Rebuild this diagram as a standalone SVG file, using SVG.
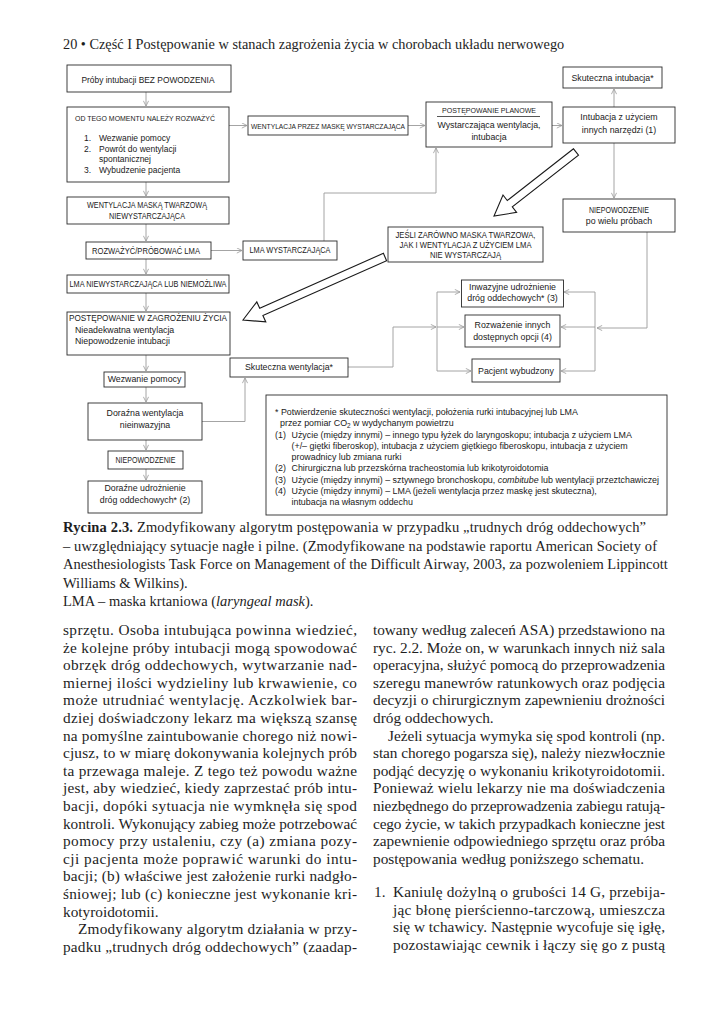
<svg xmlns="http://www.w3.org/2000/svg" width="723" height="1024" viewBox="0 0 723 1024">
<defs>
<style>
.bx{fill:#fff;stroke:#2a2a2a;stroke-width:0.9}
.t{font-family:"Liberation Sans",Arial,sans-serif;fill:#1a1a1a}
.m{font-size:8.8px}
.k{font-size:8.2px}
.c{text-anchor:middle}
.cn{fill:none;stroke:#9a9a9a;stroke-width:0.9}
.big{fill:#fff;stroke:#1a1a1a;stroke-width:1.1;stroke-linejoin:miter}
.s{font-family:"Liberation Serif","Times New Roman",serif;fill:#1e1e1e}
.b{font-size:15.3px}
.fn{font-size:8.9px}
</style>
<marker id="ah" viewBox="0 0 6 6" refX="5.6" refY="3" markerWidth="6" markerHeight="6" markerUnits="userSpaceOnUse" orient="auto">
<path d="M0.4,0.4 L5.6,3 L0.4,5.6" fill="none" stroke="#9a9a9a" stroke-width="0.8"/>
</marker>
</defs>
<rect width="723" height="1024" fill="#fff"/>

<text class="s" x="63" y="48.5" font-size="14.3">20 • Część I  Postępowanie w stanach zagrożenia życia w chorobach układu nerwowego</text>

<g id="connectors">
<path class="cn" marker-end="url(#ah)" d="M146,92 V106"/>
<path class="cn" marker-end="url(#ah)" d="M229,125.5 H247"/>
<path class="cn" marker-end="url(#ah)" d="M408,125.5 H425"/>
<path class="cn" marker-end="url(#ah)" d="M552,125.5 H562"/>
<path class="cn" marker-end="url(#ah)" d="M614,107 V89"/>
<path class="cn" marker-end="url(#ah)" d="M614,143 V198"/>
<path class="cn" marker-end="url(#ah)" d="M146,182 V196"/>
<path class="cn" marker-end="url(#ah)" d="M146,224 V241"/>
<path class="cn" marker-end="url(#ah)" d="M211,250.5 H242"/>
<path class="cn" marker-end="url(#ah)" d="M146,259 V274"/>
<path class="cn" marker-end="url(#ah)" d="M146,293 V311"/>
<path class="cn" marker-end="url(#ah)" d="M146,355 V371"/>
<path class="cn" marker-end="url(#ah)" d="M146,387 V402"/>
<path class="cn" marker-end="url(#ah)" d="M146,440 V450"/>
<path class="cn" marker-end="url(#ah)" d="M146,469 V480"/>
<path class="cn" marker-end="url(#ah)" d="M202,421.5 H245 V378"/>
<path class="cn" marker-end="url(#ah)" d="M324,241 V193 H436 V148"/>
<path class="cn" marker-end="url(#ah)" d="M348,367 H393 V327 H436"/>
<path class="cn" d="M437,292 V371"/>
<path class="cn" marker-end="url(#ah)" d="M437,292 H460"/>
<path class="cn" marker-end="url(#ah)" d="M437,327 H464"/>
<path class="cn" marker-end="url(#ah)" d="M437,371 H471"/>
<path class="cn" d="M595,292 V371"/>
<path class="cn" marker-end="url(#ah)" d="M595,292 H564"/>
<path class="cn" marker-end="url(#ah)" d="M595,327 H561"/>
<path class="cn" marker-end="url(#ah)" d="M595,371 H561"/>
<path class="cn" marker-end="url(#ah)" d="M647,232 V328 H597"/>
<polygon class="big" points="573.5,148.8 507.3,200.5 503,195 494,216 516.6,212.4 512.3,206.9 578.5,155.2"/>
<polygon class="big" points="383.4,253.3 259.7,308.2 256.8,301.9 243,320 265.8,321.9 262.9,315.6 386.6,260.7"/>
</g>

<g id="n1"><rect class="bx" x="67" y="65" width="164" height="27"/>
<text class="t c" x="148" y="82.5" font-size="9.2" textLength="133" lengthAdjust="spacingAndGlyphs">Próby intubacji BEZ POWODZENIA</text></g>

<g id="n2"><rect class="bx" x="67" y="107" width="162" height="75"/>
<text class="t c" x="145" y="121" font-size="8" textLength="140" lengthAdjust="spacingAndGlyphs">OD TEGO MOMENTU NALEŻY ROZWAŻYĆ</text>
<text class="t" font-size="8.5"><tspan x="84" y="141.3">1.</tspan><tspan x="99" y="141.3">Wezwanie pomocy</tspan><tspan x="84" y="152.3">2.</tspan><tspan x="99" y="152.3">Powrót do wentylacji</tspan><tspan x="99" y="162.3">spontanicznej</tspan><tspan x="84" y="173">3.</tspan><tspan x="99" y="173">Wybudzenie pacjenta</tspan></text></g>

<g id="n3"><rect class="bx" x="248" y="116" width="160" height="19"/>
<text class="t c" x="328" y="128.6" font-size="7.8" textLength="154" lengthAdjust="spacingAndGlyphs">WENTYLACJA PRZEZ MASKĘ WYSTARCZAJĄCA</text></g>

<g id="n4"><rect class="bx" x="426" y="102" width="126" height="45"/>
<text class="t c" x="489" y="112.8" font-size="8" textLength="94" lengthAdjust="spacingAndGlyphs">POSTĘPOWANIE PLANOWE</text>
<line x1="437" y1="116.5" x2="540" y2="116.5" stroke="#2a2a2a" stroke-width="0.8"/>
<text class="t m c" x="489" y="128">Wystarczająca wentylacja,</text>
<text class="t m c" x="489" y="139.7">intubacja</text></g>

<g id="n5"><rect class="bx" x="563" y="107" width="112" height="36"/>
<text class="t m c" x="619" y="119.7">Intubacja z użyciem</text>
<text class="t m c" x="619" y="133">innych narzędzi (1)</text></g>

<g id="n6"><rect class="bx" x="563" y="67" width="99" height="21"/>
<text class="t m c" x="612.5" y="80.5">Skuteczna intubacja*</text></g>

<g id="n7"><rect class="bx" x="563" y="199" width="112" height="33"/>
<text class="t k c" x="619" y="212.8" textLength="60" lengthAdjust="spacingAndGlyphs">NIEPOWODZENIE</text>
<text class="t m c" x="619" y="223.7">po wielu próbach</text></g>

<g id="n8"><rect class="bx" x="67" y="197" width="162" height="27"/>
<text class="t k c" x="147" y="207.8" textLength="120" lengthAdjust="spacingAndGlyphs">WENTYLACJA MASKĄ TWARZOWĄ</text>
<text class="t k c" x="147" y="219.4" textLength="76" lengthAdjust="spacingAndGlyphs">NIEWYSTARCZAJĄCA</text></g>

<g id="n9"><rect class="bx" x="86" y="242" width="125" height="17"/>
<text class="t k c" x="146" y="253.6" textLength="108" lengthAdjust="spacingAndGlyphs">ROZWAŻYĆ/PRÓBOWAĆ LMA</text></g>

<g id="n10"><rect class="bx" x="243" y="241" width="94" height="19"/>
<text class="t k c" x="290" y="253" textLength="81" lengthAdjust="spacingAndGlyphs">LMA WYSTARCZAJĄCA</text></g>

<g id="n11"><rect class="bx" x="388" y="227" width="155" height="35"/>
<text class="t c" x="465.5" y="237.8" font-size="8.4" textLength="140" lengthAdjust="spacingAndGlyphs">JEŚLI ZARÓWNO MASKA TWARZOWA,</text>
<text class="t c" x="465.5" y="247.9" font-size="8.4" textLength="132" lengthAdjust="spacingAndGlyphs">JAK I WENTYLACJA Z UŻYCIEM LMA</text>
<text class="t c" x="465.5" y="258" font-size="8.4" textLength="71" lengthAdjust="spacingAndGlyphs">NIE WYSTARCZAJĄ</text></g>

<g id="n12"><rect class="bx" x="67" y="275" width="162" height="18"/>
<text class="t k c" x="148" y="287.3" textLength="157" lengthAdjust="spacingAndGlyphs">LMA NIEWYSTARCZAJĄCA LUB NIEMOŻLIWA</text></g>

<g id="n13"><rect class="bx" x="67" y="312" width="163" height="43"/>
<text class="t" x="69" y="321.3" font-size="8.7" textLength="158" lengthAdjust="spacingAndGlyphs">POSTĘPOWANIE W ZAGROŻENIU ŻYCIA</text>
<text class="t m" x="75" y="333">Nieadekwatna wentylacja</text>
<text class="t m" x="75" y="343.8">Niepowodzenie intubacji</text></g>

<g id="n14"><rect class="bx" x="461.5" y="280" width="102" height="27"/>
<text class="t m c" x="512.5" y="290.3">Inwazyjne udrożnienie</text>
<text class="t m c" x="512.5" y="301.3">dróg oddechowych* (3)</text></g>

<g id="n15"><rect class="bx" x="465" y="315" width="95" height="32"/>
<text class="t m c" x="512.5" y="328">Rozważenie innych</text>
<text class="t m c" x="512.5" y="339.7">dostępnych opcji (4)</text></g>

<g id="n16"><rect class="bx" x="472" y="359" width="88" height="23"/>
<text class="t m c" x="516" y="373.7">Pacjent wybudzony</text></g>

<g id="n17"><rect class="bx" x="230" y="358" width="118" height="19"/>
<text class="t m c" x="289" y="370.3">Skuteczna wentylacja*</text></g>

<g id="n18"><rect class="bx" x="104" y="372" width="81" height="15"/>
<text class="t m c" x="144.5" y="382.3">Wezwanie pomocy</text></g>

<g id="n19"><rect class="bx" x="88" y="403" width="114" height="37"/>
<text class="t m c" x="145" y="415.5">Doraźna wentylacja</text>
<text class="t m c" x="145" y="428">nieinwazyjna</text></g>

<g id="n20"><rect class="bx" x="108" y="451" width="75" height="18"/>
<text class="t k c" x="145.5" y="462.8" textLength="60" lengthAdjust="spacingAndGlyphs">NIEPOWODZENIE</text></g>

<g id="n21"><rect class="bx" x="88" y="481" width="114" height="32"/>
<text class="t m c" x="145" y="491.3">Doraźne udrożnienie</text>
<text class="t m c" x="145" y="503">dróg oddechowych* (2)</text></g>

<g id="footnote"><rect class="bx" x="266" y="395" width="401" height="120"/>
<text class="t fn">
<tspan x="275" y="415">* Potwierdzenie skuteczności wentylacji, położenia rurki intubacyjnej lub LMA</tspan>
<tspan x="280" y="426">przez pomiar CO</tspan><tspan font-size="6.4" dy="2">2</tspan><tspan dy="-2"> w wydychanym powietrzu</tspan>
<tspan x="275" y="437.5">(1)</tspan><tspan x="291.5" y="437.5">Użycie (między innymi) – innego typu łyżek do laryngoskopu; intubacja z użyciem LMA</tspan>
<tspan x="291.5" y="448.5">(+/– giętki fiberoskop), intubacja z użyciem giętkiego fiberoskopu, intubacja z użyciem</tspan>
<tspan x="291.5" y="459.5">prowadnicy lub zmiana rurki</tspan>
<tspan x="275" y="471">(2)</tspan><tspan x="291.5" y="471">Chirurgiczna lub przezskórna tracheostomia lub krikotyroidotomia</tspan>
<tspan x="275" y="482.5">(3)</tspan><tspan x="291.5" y="482.5">Użycie (między innymi) – sztywnego bronchoskopu, </tspan><tspan font-style="italic">combitube</tspan><tspan> lub wentylacji przeztchawiczej</tspan>
<tspan x="275" y="494">(4)</tspan><tspan x="291.5" y="494">Użycie (między innymi) – LMA (jeżeli wentylacja przez maskę jest skuteczna),</tspan>
<tspan x="291.5" y="505">intubacja na własnym oddechu</tspan>
</text></g>

<g id="caption" class="s" font-size="14.5">
<text x="63" y="532" textLength="583" lengthAdjust="spacing"><tspan font-weight="bold">Rycina 2.3.</tspan> Zmodyfikowany algorytm postępowania w przypadku „trudnych dróg oddechowych”</text>
<text x="63" y="550.5" textLength="594" lengthAdjust="spacing">– uwzględniający sytuacje nagłe i pilne. (Zmodyfikowane na podstawie raportu American Society of</text>
<text x="63" y="569">Anesthesiologists Task Force on Management of the Difficult Airway, 2003, za pozwoleniem Lippincott</text>
<text x="63" y="587.5">Williams &amp; Wilkins).</text>
<text x="63" y="606">LMA – maska krtaniowa (<tspan font-style="italic">laryngeal mask</tspan>).</text>
</g>

<g id="body-left" class="s b">
<text x="63" y="635" textLength="294" lengthAdjust="spacing">sprzętu. Osoba intubująca powinna wiedzieć,</text>
<text x="63" y="652.6" textLength="294" lengthAdjust="spacing">że kolejne próby intubacji mogą spowodować</text>
<text x="63" y="670.2" textLength="294" lengthAdjust="spacing">obrzęk dróg oddechowych, wytwarzanie nad-</text>
<text x="63" y="687.8" textLength="294" lengthAdjust="spacing">miernej ilości wydzieliny lub krwawienie, co</text>
<text x="63" y="705.4" textLength="294" lengthAdjust="spacing">może utrudniać wentylację. Aczkolwiek bar-</text>
<text x="63" y="723" textLength="294" lengthAdjust="spacing">dziej doświadczony lekarz ma większą szansę</text>
<text x="63" y="740.6" textLength="294" lengthAdjust="spacing">na pomyślne zaintubowanie chorego niż nowi-</text>
<text x="63" y="758.2" textLength="294" lengthAdjust="spacing">cjusz, to w miarę dokonywania kolejnych prób</text>
<text x="63" y="775.8" textLength="294" lengthAdjust="spacing">ta przewaga maleje. Z tego też powodu ważne</text>
<text x="63" y="793.4" textLength="294" lengthAdjust="spacing">jest, aby wiedzieć, kiedy zaprzestać prób intu-</text>
<text x="63" y="811" textLength="294" lengthAdjust="spacing">bacji, dopóki sytuacja nie wymknęła się spod</text>
<text x="63" y="828.6" textLength="294" lengthAdjust="spacing">kontroli. Wykonujący zabieg może potrzebować</text>
<text x="63" y="846.2" textLength="294" lengthAdjust="spacing">pomocy przy ustaleniu, czy (a) zmiana pozy-</text>
<text x="63" y="863.8" textLength="294" lengthAdjust="spacing">cji pacjenta może poprawić warunki do intu-</text>
<text x="63" y="881.4" textLength="294" lengthAdjust="spacing">bacji; (b) właściwe jest założenie rurki nadgło-</text>
<text x="63" y="899" textLength="294" lengthAdjust="spacing">śniowej; lub (c) konieczne jest wykonanie kri-</text>
<text x="63" y="916.6">kotyroidotomii.</text>
<text x="78" y="934.2" textLength="279" lengthAdjust="spacing">Zmodyfikowany algorytm działania w przy-</text>
<text x="63" y="951.8" textLength="294" lengthAdjust="spacing">padku „trudnych dróg oddechowych” (zaadap-</text>
</g>

<g id="body-right" class="s b">
<text x="373" y="635" textLength="292" lengthAdjust="spacing">towany według zaleceń ASA) przedstawiono na</text>
<text x="373" y="652.6" textLength="292" lengthAdjust="spacing">ryc. 2.2. Może on, w warunkach innych niż sala</text>
<text x="373" y="670.2" textLength="292" lengthAdjust="spacing">operacyjna, służyć pomocą do przeprowadzenia</text>
<text x="373" y="687.8" textLength="292" lengthAdjust="spacing">szeregu manewrów ratunkowych oraz podjęcia</text>
<text x="373" y="705.4" textLength="292" lengthAdjust="spacing">decyzji o chirurgicznym zapewnieniu drożności</text>
<text x="373" y="723">dróg oddechowych.</text>
<text x="388" y="740.6" textLength="277" lengthAdjust="spacing">Jeżeli sytuacja wymyka się spod kontroli (np.</text>
<text x="373" y="758.2" textLength="292" lengthAdjust="spacing">stan chorego pogarsza się), należy niezwłocznie</text>
<text x="373" y="775.8" textLength="292" lengthAdjust="spacing">podjąć decyzję o wykonaniu krikotyroidotomii.</text>
<text x="373" y="793.4" textLength="292" lengthAdjust="spacing">Ponieważ wielu lekarzy nie ma doświadczenia</text>
<text x="373" y="811" textLength="292" lengthAdjust="spacing">niezbędnego do przeprowadzenia zabiegu ratują-</text>
<text x="373" y="828.6" textLength="292" lengthAdjust="spacing">cego życie, w takich przypadkach konieczne jest</text>
<text x="373" y="846.2" textLength="292" lengthAdjust="spacing">zapewnienie odpowiedniego sprzętu oraz próba</text>
<text x="373" y="863.8">postępowania według poniższego schematu.</text>
<text x="374" y="897">1.</text>
<text x="393" y="897" textLength="272" lengthAdjust="spacing">Kaniulę dożylną o grubości 14 G, przebija-</text>
<text x="393" y="914.6" textLength="272" lengthAdjust="spacing">jąc błonę pierścienno-tarczową, umieszcza</text>
<text x="393" y="932.2" textLength="272" lengthAdjust="spacing">się w tchawicy. Następnie wycofuje się igłę,</text>
<text x="393" y="949.8" textLength="272" lengthAdjust="spacing">pozostawiając cewnik i łączy się go z pustą</text>
</g>
</svg>
